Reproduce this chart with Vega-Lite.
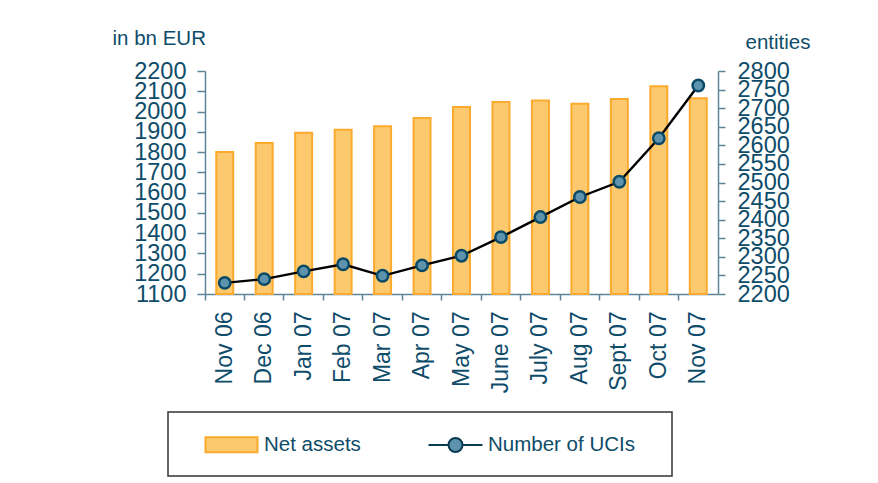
{
  "$schema": "https://vega.github.io/schema/vega-lite/v6.json",
  "width": 513,
  "height": 223,
  "autosize": {"type": "none"},
  "padding": {"left": 205, "top": 71, "right": 160, "bottom": 189},
  "background": "white",
  "config": {
    "view": {"stroke": null},
    "font": "Liberation Sans",
    "axis": {
      "grid": false,
      "domainColor": "#5E8597",
      "tickColor": "#5E8597",
      "labelColor": "#0E4C6A",
      "titleColor": "#0E4C6A",
      "labelFont": "Liberation Sans",
      "titleFont": "Liberation Sans",
      "labelFontSize": 23.5,
      "titleFontSize": 20.5,
      "titleFontWeight": "normal",
      "domainWidth": 1.5,
      "tickWidth": 1.5
    },
    "legend": {
      "orient": "none",
      "legendX": -37,
      "legendY": 341,
      "direction": "horizontal",
      "strokeColor": "#333333",
      "padding": 19.5,
      "symbolSize": 576,
      "symbolOffset": 31,
      "labelOffset": 19.5,
      "columnPadding": 50,
      "labelFontSize": 20.5,
      "labelColor": "#0E4C6A",
      "labelFont": "Liberation Sans",
      "labelLimit": 400
    }
  },
  "data": {
    "values": [
      {"month": "Nov 06", "assets": 1800, "ucis": 2230},
      {"month": "Dec 06", "assets": 1845, "ucis": 2240},
      {"month": "Jan 07", "assets": 1895, "ucis": 2261},
      {"month": "Feb 07", "assets": 1910, "ucis": 2280},
      {"month": "Mar 07", "assets": 1928, "ucis": 2249},
      {"month": "Apr 07", "assets": 1968, "ucis": 2277},
      {"month": "May 07", "assets": 2022, "ucis": 2303},
      {"month": "June 07", "assets": 2047, "ucis": 2353},
      {"month": "July 07", "assets": 2055, "ucis": 2407},
      {"month": "Aug 07", "assets": 2038, "ucis": 2461},
      {"month": "Sept 07", "assets": 2062, "ucis": 2502},
      {"month": "Oct 07", "assets": 2125, "ucis": 2619},
      {"month": "Nov 07", "assets": 2065, "ucis": 2761}
    ]
  },
  "encoding": {
    "x": {
      "field": "month",
      "type": "nominal",
      "sort": null,
      "scale": {"paddingInner": 0, "paddingOuter": 0},
      "axis": {
        "title": null,
        "labelAngle": -90,
        "labelPadding": 11,
        "tickSize": 6,
        "bandPosition": 0,
        "labelFontSize": 23
      }
    }
  },
  "layer": [
    {
      "mark": {"type": "bar", "width": {"band": 0.43}, "stroke": "#FBAA2E", "strokeWidth": 2},
      "encoding": {
        "y": {
          "field": "assets",
          "type": "quantitative",
          "scale": {"domain": [1100, 2200], "nice": false, "zero": false},
          "axis": {
            "values": [1100, 1200, 1300, 1400, 1500, 1600, 1700, 1800, 1900, 2000, 2100, 2200],
            "format": "d",
            "labelOverlap": false,
            "labelFlush": false,
            "tickSize": 8,
            "labelPadding": 11,
            "title": "in bn EUR",
            "titleAngle": 0,
            "titleAlign": "left",
            "titleBaseline": "alphabetic",
            "titleX": -93,
            "titleY": -27
          }
        },
        "y2": {"datum": 1100},
        "fill": {
          "datum": "Net assets",
          "type": "nominal",
          "scale": {"domain": ["Net assets", "Number of UCIs"], "range": ["#FDC96E", "#5E93AD"]},
          "legend": {
            "title": null,
            "labelExpr": "datum.label === 'Number of UCIs' ? datum.label + '\u00a0\u00a0\u00a0\u200b' : datum.label",
            "encoding": {
              "legend": {"strokeWidth": {"value": 1.5}},
              "symbols": {
                "shape": {"value": {"expr": "datum.value === 'Net assets' ? 'M-2.167,-0.625H2.167V0.625H-2.167Z' : 'M-2.25,0H-0.583M0.583,0H2.25M0.583,0A0.583,0.583 0 1 1 -0.583,0A0.583,0.583 0 1 1 0.583,0Z'"}},
                "fill": {"value": {"expr": "datum.value === 'Net assets' ? '#FDC96E' : '#5E93AD'"}},
                "stroke": {"value": {"expr": "datum.value === 'Net assets' ? '#FBAA2E' : '#0B3B50'"}},
                "strokeWidth": {"value": 2},
                "opacity": {"value": 1}
              }
            }
          }
        }
      }
    },
    {
      "encoding": {
        "y": {
          "field": "ucis",
          "type": "quantitative",
          "scale": {"domain": [2200, 2800], "nice": false, "zero": false},
          "axis": {
            "orient": "right",
            "values": [2200, 2250, 2300, 2350, 2400, 2450, 2500, 2550, 2600, 2650, 2700, 2750, 2800],
            "format": "d",
            "labelOverlap": false,
            "labelFlush": false,
            "tickSize": 7,
            "labelPadding": 12,
            "title": "entities",
            "titleAngle": 0,
            "titleAlign": "left",
            "titleBaseline": "alphabetic",
            "titleX": 27,
            "titleY": -23
          }
        }
      },
      "layer": [
        {
          "mark": {"type": "line", "color": "black", "strokeWidth": 2.4}
        },
        {
          "mark": {"type": "point", "shape": "circle", "filled": true, "size": 130, "stroke": "#0B4A66", "strokeWidth": 2.5, "opacity": 1},
          "encoding": {
            "fill": {"datum": "Number of UCIs", "type": "nominal"}
          }
        }
      ]
    }
  ],
  "resolve": {"scale": {"y": "independent"}}
}
